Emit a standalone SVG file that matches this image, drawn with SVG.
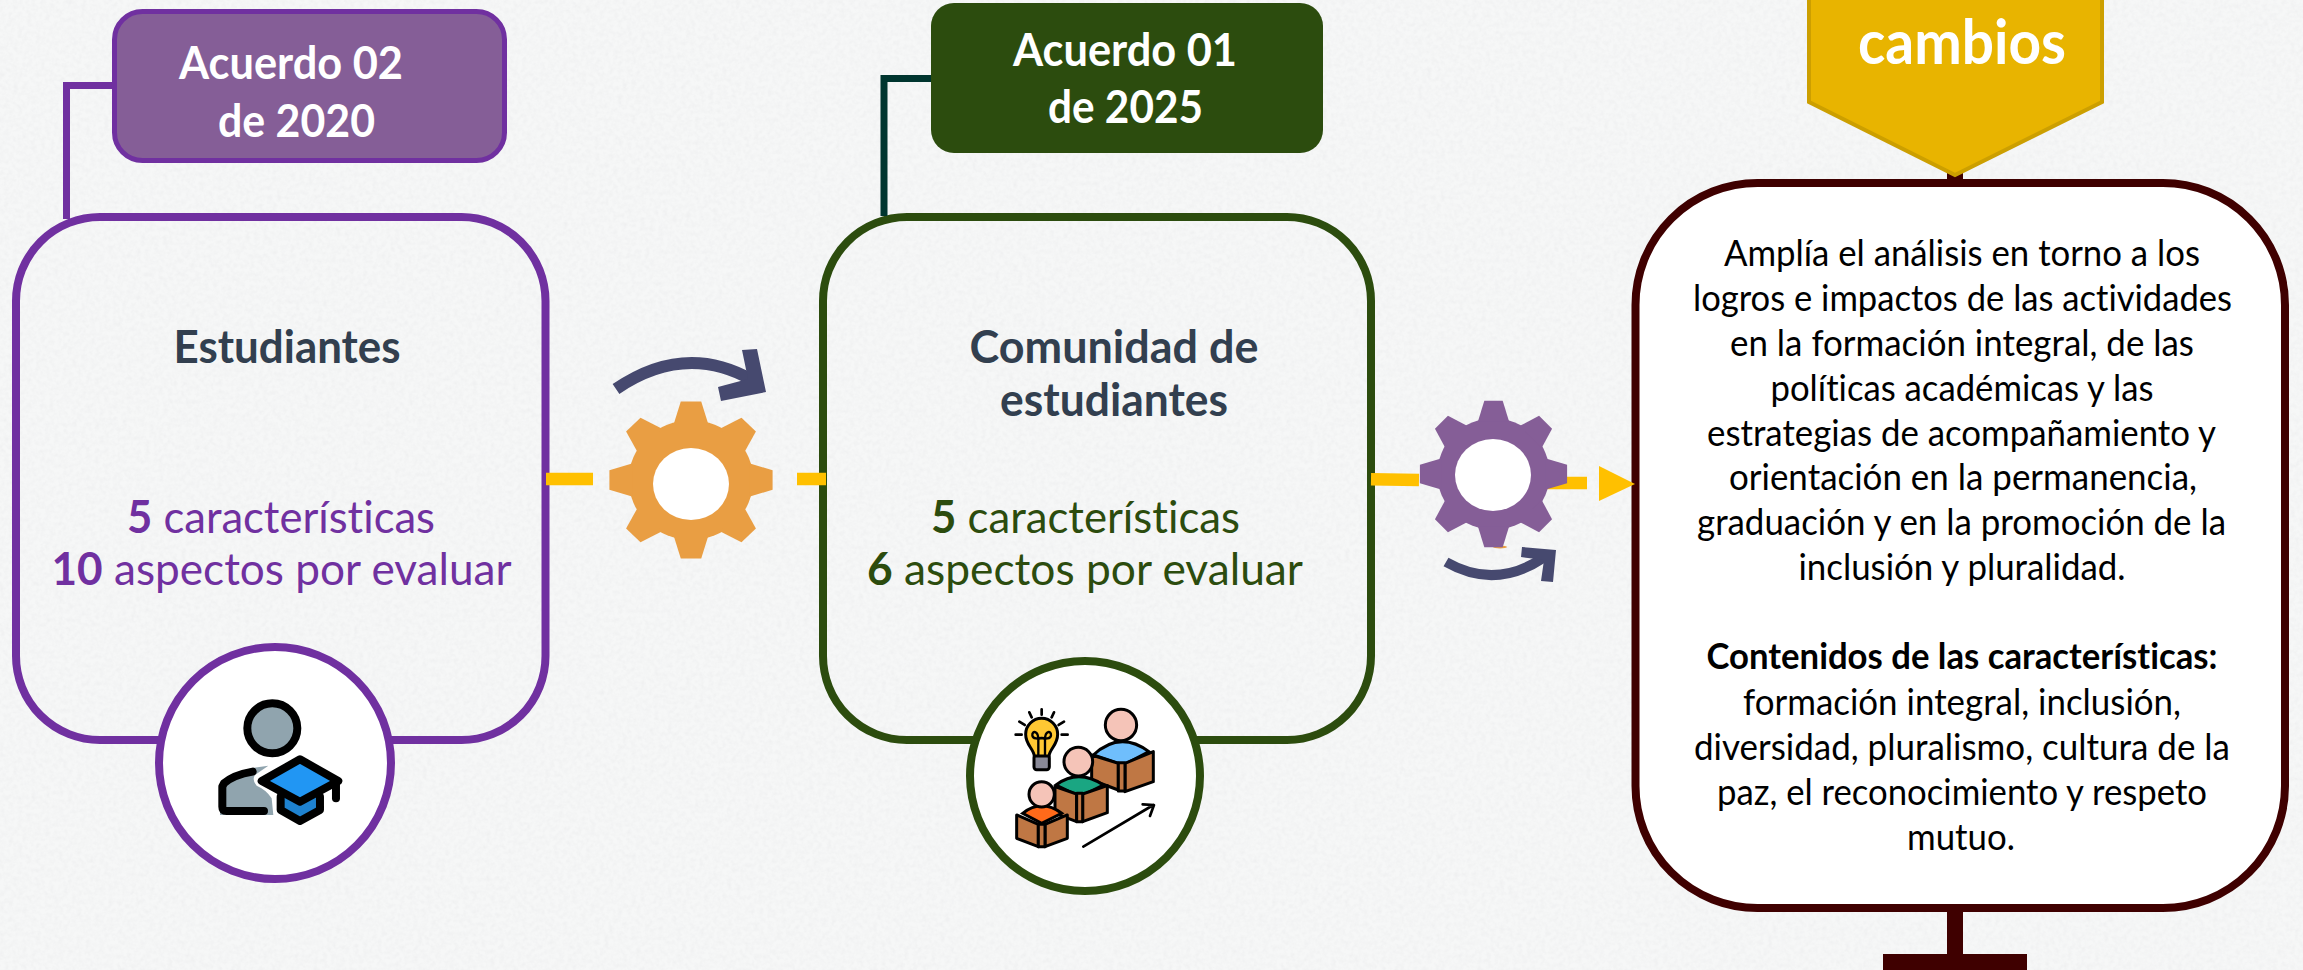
<svg xmlns="http://www.w3.org/2000/svg" width="2303" height="970" viewBox="0 0 2303 970">
  <style>
    text { font-family: "Lato", "Open Sans", sans-serif; text-anchor: middle; font-variant-ligatures: none; }
    .tag { font-size: 45px; font-weight: 700; fill: #ffffff; }
    .head { font-size: 45px; font-weight: 700; fill: #323f4f; }
    .pur { font-size: 45px; fill: #7030a0; }
    .grn { font-size: 45px; fill: #2c4c0e; }
    .body { font-size: 37px; fill: #000000; }
    .b { font-weight: 700; }
    .box { fill: none; stroke-width: 8; }
    .ring { fill: #ffffff; stroke-width: 8; }
    .dash { fill: none; stroke: #ffc000; stroke-width: 12.5; }
    .ico { stroke: #000000; stroke-linejoin: round; stroke-linecap: round; }
    .page { fill: #bf7744; stroke: #000000; stroke-width: 9; stroke-linejoin: round; }
    .skin { fill: #f5c4b8; stroke: #000000; stroke-width: 9; }
    .ray { fill: none; stroke: #000000; stroke-width: 8; stroke-linecap: round; }
    .turn { fill: #46496f; }
  </style>
  <defs>
    <filter id="paper" x="0" y="0" width="100%" height="100%">
      <feTurbulence type="fractalNoise" baseFrequency="0.22" numOctaves="3" seed="4"/>
      <feColorMatrix type="matrix" values="0 0 0 0 0.55  0 0 0 0 0.55  0 0 0 0 0.58  0.16 0.16 0 0 -0.125"/>
    </filter>
    <polygon id="tooth" points="57,-17 80,-10 80,10 57,17"/>
    <g id="gear">
      <circle r="61"/>
      <use href="#tooth"/>
      <use href="#tooth" transform="rotate(45)"/>
      <use href="#tooth" transform="rotate(90)"/>
      <use href="#tooth" transform="rotate(135)"/>
      <use href="#tooth" transform="rotate(180)"/>
      <use href="#tooth" transform="rotate(225)"/>
      <use href="#tooth" transform="rotate(270)"/>
      <use href="#tooth" transform="rotate(315)"/>
    </g>
  </defs>

  <rect id="background" width="2303" height="970" fill="#f6f7f7"/>
  <rect width="2303" height="970" filter="url(#paper)"/>

  <g id="node-acuerdo-02">
    <rect x="114.5" y="11.5" width="390" height="149" rx="28" fill="#855e97" stroke="#7030a0" stroke-width="5"/>
    <text class="tag" x="291" y="79" textLength="224" lengthAdjust="spacingAndGlyphs">Acuerdo 02</text>
    <text class="tag" x="296.5" y="137" textLength="157" lengthAdjust="spacingAndGlyphs">de 2020</text>
  </g>

  <g id="node-estudiantes">
    <rect class="box" x="16" y="217" width="529.5" height="523" rx="84" stroke="#7030a0"/>
    <text class="head" x="287" y="363" textLength="227" lengthAdjust="spacingAndGlyphs">Estudiantes</text>
    <text class="pur" x="281" y="532.5" textLength="308" lengthAdjust="spacingAndGlyphs"><tspan class="b">5</tspan> características</text>
    <text class="pur" x="281.5" y="585" textLength="460" lengthAdjust="spacingAndGlyphs"><tspan class="b">10</tspan> aspectos por evaluar</text>
    <circle class="ring" cx="275" cy="763" r="116" stroke="#7030a0"/>
    <g id="icon-graduate" transform="translate(120 620) scale(.3333)">
      <path d="M445,437C380,445 320,460 300,490V585H460L455,535Q440,510 410,497Q395,480 405,465Z" fill="#90a4ae"/>
      <circle cx="457" cy="325" r="75" fill="#90a4ae" stroke="#000" stroke-width="24"/>
      <path class="ico" d="M398,455Q340,465 312,490L307,500V560Q307,573 320,573H432" fill="none" stroke-width="24"/>
      <path class="ico" d="M482,530V570L540,603L600,570V530" fill="#1e82d0" stroke-width="24"/>
      <polygon class="ico" points="540,418 655,483 540,545 425,483" fill="#2196f3" stroke-width="24"/>
      <path class="ico" d="M648,483V535" fill="none" stroke-width="24"/>
    </g>
  </g>

  <g id="node-acuerdo-01">
    <rect x="931" y="3" width="392" height="150" rx="23" fill="#2c4c0e"/>
    <text class="tag" x="1125" y="66" textLength="224" lengthAdjust="spacingAndGlyphs">Acuerdo 01</text>
    <text class="tag" x="1125.5" y="122.5" textLength="155" lengthAdjust="spacingAndGlyphs">de 2025</text>
  </g>

  <g id="node-comunidad">
    <rect class="box" x="823" y="217" width="548" height="523" rx="84" stroke="#2c4c0e"/>
    <text class="head" x="1114" y="363" textLength="289" lengthAdjust="spacingAndGlyphs">Comunidad de</text>
    <text class="head" x="1114" y="415.5" textLength="228" lengthAdjust="spacingAndGlyphs">estudiantes</text>
    <text class="grn" x="1085.5" y="532.5" textLength="309" lengthAdjust="spacingAndGlyphs"><tspan class="b">5</tspan> características</text>
    <text class="grn" x="1085" y="585" textLength="436" lengthAdjust="spacingAndGlyphs"><tspan class="b">6</tspan> aspectos por evaluar</text>
    <circle class="ring" cx="1085" cy="776" r="115" stroke="#2c4c0e"/>
    <g id="icon-learners" transform="translate(950 640) scale(.3333)">
      <path class="ray" d="M275,208V224M238,217L245,232M312,217L305,232M208,245L224,255M342,245L326,255M197,284H215M335,284H353"/>
      <rect x="252" y="345" width="46" height="44" rx="8" fill="#8a8a98" stroke="#000" stroke-width="9"/>
      <path d="M253,348C250,325 227,315 227,283A48,48 0 0 1 323,283C323,315 300,325 297,348Z" fill="#ffc833" stroke="#000" stroke-width="9" stroke-linejoin="round"/>
      <path d="M265,346V300C265,270 246,272 247,286C248,298 265,296 275,294C285,296 302,298 303,286C304,272 285,270 285,300V346" fill="none" stroke="#000" stroke-width="7"/>
      <path d="M430,345Q510,270 597,335L520,375Z" fill="#6fbefc" stroke="#000" stroke-width="9"/>
      <circle class="skin" cx="513" cy="255" r="47"/>
      <polygon class="page" points="425,345 505,370 505,450 425,420"/>
      <polygon class="page" points="525,370 610,335 610,425 525,455"/>
      <rect class="page" x="505" y="368" width="20" height="85"/>
      <path d="M318,435Q385,385 460,435L390,470Z" fill="#1aa682" stroke="#000" stroke-width="9"/>
      <circle class="skin" cx="385" cy="365" r="43"/>
      <polygon class="page" points="315,440 380,462 380,545 315,520"/>
      <polygon class="page" points="398,462 472,437 472,518 398,545"/>
      <rect class="page" x="380" y="460" width="18" height="85"/>
      <path d="M218,520Q275,475 335,520L275,550Z" fill="#ff6a1a" stroke="#000" stroke-width="9"/>
      <circle class="skin" cx="275" cy="463" r="38"/>
      <polygon class="page" points="200,525 265,553 265,620 200,595"/>
      <polygon class="page" points="285,553 352,525 352,595 285,620"/>
      <rect class="page" x="265" y="553" width="20" height="67"/>
      <path d="M400,620L610,495M578,493L612,495L600,528" fill="none" stroke="#000" stroke-width="8" stroke-linecap="round" stroke-linejoin="round"/>
    </g>
  </g>

  <g id="node-detalle">
    <rect x="1635.5" y="183" width="649.5" height="725" rx="122" fill="#ffffff" stroke="#3f0000" stroke-width="8"/>
    <text class="body" x="1962" y="266" textLength="476" lengthAdjust="spacingAndGlyphs">Amplía el análisis en torno a los</text>
    <text class="body" x="1962.5" y="311" textLength="539" lengthAdjust="spacingAndGlyphs">logros e impactos de las actividades</text>
    <text class="body" x="1962" y="355.5" textLength="464" lengthAdjust="spacingAndGlyphs">en la formación integral, de las</text>
    <text class="body" x="1962" y="401" textLength="383" lengthAdjust="spacingAndGlyphs">políticas académicas y las</text>
    <text class="body" x="1961.5" y="446" textLength="509" lengthAdjust="spacingAndGlyphs">estrategias de acompañamiento y</text>
    <text class="body" x="1963" y="490" textLength="468" lengthAdjust="spacingAndGlyphs">orientación en la permanencia,</text>
    <text class="body" x="1961.5" y="535" textLength="529" lengthAdjust="spacingAndGlyphs">graduación y en la promoción de la</text>
    <text class="body" x="1962" y="580" textLength="327" lengthAdjust="spacingAndGlyphs">inclusión y pluralidad.</text>
    <text class="body b" x="1962" y="669" textLength="511" lengthAdjust="spacingAndGlyphs">Contenidos de las características:</text>
    <text class="body" x="1962" y="715" textLength="438" lengthAdjust="spacingAndGlyphs">formación integral, inclusión,</text>
    <text class="body" x="1962" y="760" textLength="536" lengthAdjust="spacingAndGlyphs">diversidad, pluralismo, cultura de la</text>
    <text class="body" x="1962" y="805" textLength="490" lengthAdjust="spacingAndGlyphs">paz, el reconocimiento y respeto</text>
    <text class="body" x="1961" y="850" textLength="108" lengthAdjust="spacingAndGlyphs">mutuo.</text>
  </g>

  <g id="connectors" fill="none">
    <path d="M112,85.5H66.5V219" stroke="#7030a0" stroke-width="7"/>
    <path d="M931,78.5H884V216" stroke="#00352f" stroke-width="7"/>
    <path d="M1955,165V180" stroke="#3f0000" stroke-width="16"/>
    <path d="M1955,911V955" stroke="#3f0000" stroke-width="16"/>
    <rect x="1883" y="954" width="144" height="16" fill="#3f0000"/>
    <path class="dash" d="M546,479H593"/>
    <path class="dash" d="M797,479H826"/>
    <path class="dash" d="M1371,479.3L1419,480"/>
    <path class="dash" d="M1540,483H1587"/>
    <polygon points="1599,466 1635,484 1599,501" fill="#ffc000"/>
  </g>

  <g id="node-cambios">
    <polygon points="1809,-6 2102,-6 2102,102 1955,175 1809,102" fill="#e8b400" stroke="#cc9f00" stroke-width="4"/>
    <text class="tag" style="font-size:62px" x="1962" y="64" textLength="208" lengthAdjust="spacingAndGlyphs">cambios</text>
  </g>

  <g id="gear-orange">
    <use href="#gear" transform="translate(691 480) scale(1.02 .98)" fill="#e99e43"/>
    <ellipse cx="691" cy="484" rx="38" ry="36" fill="#ffffff"/>
    <path d="M616,389Q685,342 752,380" fill="none" stroke="#46496f" stroke-width="12"/>
    <polygon class="turn" points="742,350 757,349 766,392 721,401 718,387 748,379"/>
  </g>

  <g id="gear-purple">
    <ellipse cx="1500" cy="547" rx="7" ry="1.5" fill="#e99e43"/>
    <use href="#gear" transform="translate(1493.5 474) scale(.92 .915)" fill="#855e97"/>
    <ellipse cx="1493" cy="475" rx="38" ry="36" fill="#ffffff"/>
    <path d="M1446,562Q1495,590 1543,558" fill="none" stroke="#46496f" stroke-width="10"/>
    <polygon class="turn" points="1522,547 1556,550 1553,582 1541,581 1544,560 1521,557"/>
  </g>
</svg>
